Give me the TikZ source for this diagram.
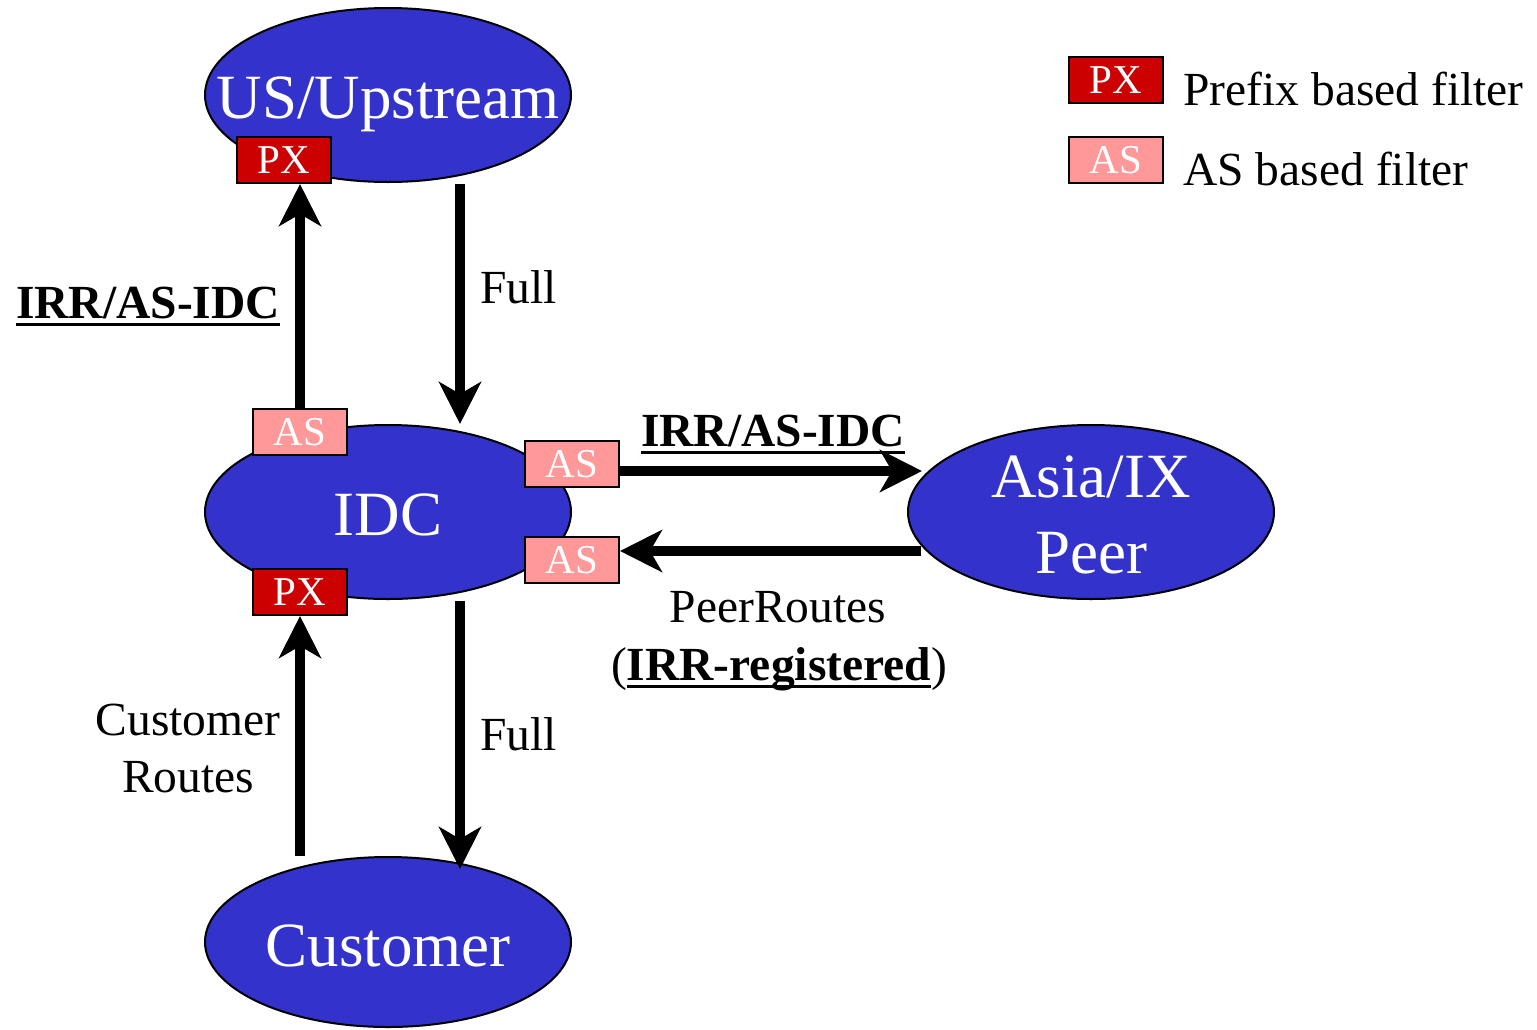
\documentclass[tikz,border=0pt]{standalone}
\usepackage{fontspec}
\setmainfont{Liberation Serif}
\newcommand{\myuline}[1]{\setbox0\hbox{#1}\rlap{\vrule height -2.5pt depth 4pt width \wd0}\box0}
\usetikzlibrary{shapes.geometric,arrows.meta,calc}
\definecolor{nodeblue}{HTML}{3333CC}
\definecolor{pxred}{HTML}{CC0000}
\definecolor{aspink}{HTML}{FF9999}
\tikzset{
  ell/.style={ellipse, draw, line width=1pt, fill=nodeblue, minimum width=183pt, minimum height=87pt, inner sep=0pt},
  eltxt/.style={text=white, font=\fontsize{31.5}{38}\selectfont, anchor=base, inner sep=0pt},
  filterbox/.style={draw, line width=1pt, text=white, minimum width=47pt, minimum height=23pt, inner sep=0pt, font=\fontsize{20.5}{24}\selectfont, text height=13.5pt, text depth=0pt},
  pxbox/.style={filterbox, fill=pxred},
  asbox/.style={filterbox, fill=aspink},
  lbl/.style={font=\fontsize{23.75}{28.5}\selectfont, anchor=base, inner sep=0pt},
  arr/.style={line width=5pt, -{Stealth[length=21pt,width=21pt,inset=6pt]}}
}
\begin{document}
\begin{tikzpicture}[x=0.5pt,y=-0.5pt]
\fill[white] (0,0) rectangle (1537,1029);
\useasboundingbox (0,0) rectangle (1537,1029);
% ellipses
\node[ell] (us) at (388,95) {};
\node[eltxt] (ustxt) at ($(us.center)+(0,23)$) {US/Upstream};
\node[ell] (idc) at (388,512) {};
\node[eltxt] (idctxt) at ($(idc.center)+(0,23)$) {IDC};
\node[ell, minimum height=85pt] (cust) at (388,942) {};
\node[eltxt] (custtxt) at ($(cust.center)+(0,24)$) {Customer};
\node[ell] (asia) at (1091,512) {};
\node[eltxt] (asiatxt1) at ($(asia.center)+(0,-15)$) {Asia/IX};
\node[eltxt] (asiatxt2) at ($(asia.center)+(0,61)$) {Peer};
% filter boxes
\node[pxbox] (pxus) at (284,160) {PX};
\node[asbox] (astop) at (300,432) {AS};
\node[asbox] (asr1) at (572,464) {AS};
\node[asbox] (asr2) at (572,560) {AS};
\node[pxbox] (pxidc) at (300,592) {PX};
% legend
\node[pxbox] (legpx) at (1116,80) {PX};
\node[asbox] (legas) at (1116,160) {AS};
\node[lbl, anchor=base west] (legpxt) at (1183,105) {Prefix based filter};
\node[lbl, anchor=base west] (legast) at (1183,185) {AS based filter};
% arrows
\draw[arr] (astop.north) -- (astop.north |- pxus.south);
\draw[arr] ($(us.south)+(72,1)$) -- ($(idc.north)+(72,0)$);
\draw[arr] ($(asr1.east)+(0,7)$) -- ($(asia.west)+(15,-41)$);
\draw[arr] ($(asia.west)+(14,39)$) -- ($(asr2.east)+(0,-9)$);
\draw[arr] (pxidc.south |- cust.north) -- (pxidc.south);
\draw[arr] ($(idc.south)+(72,1)$) -- ($(cust.north)+(72,13)$);
% labels
\node[lbl] (irr1) at (148,318) {\textbf{\myuline{IRR/AS-IDC}}};
\node[lbl, anchor=base west] (full1) at (480,303) {Full};
\node[lbl] (irr2) at (773,446) {\textbf{\myuline{IRR/AS-IDC}}};
\node[lbl] (peer) at (778,622) {PeerRoutes};
\node[lbl] (irrreg) at (779,680) {(\textbf{\myuline{IRR-registered}})};
\node[lbl] (custr1) at (188,735) {Customer};
\node[lbl] (custr2) at (188,792) {Routes};
\node[lbl, anchor=base west] (full2) at (480,750) {Full};
\end{tikzpicture}
\end{document}
